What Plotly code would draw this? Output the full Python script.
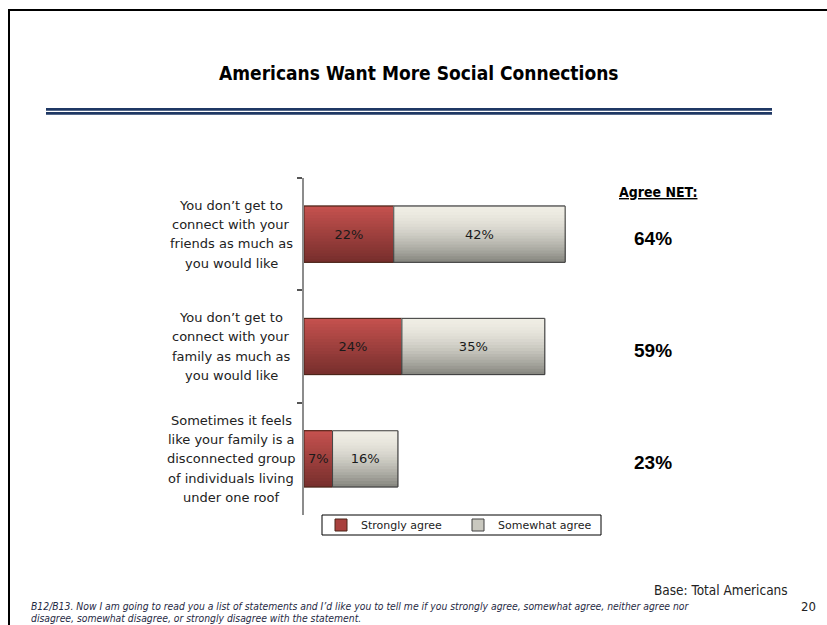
import plotly.graph_objects as go

# Survey statements (top to bottom) and agreement shares (%)
statements = [
    "You don\u2019t get to\nconnect with your\nfriends as much as\nyou would like",
    "You don\u2019t get to\nconnect with your\nfamily as much as\nyou would like",
    "Sometimes it feels\nlike your family is a\ndisconnected group\nof individuals living\nunder one roof",
]
strongly_agree = [22, 24, 7]
somewhat_agree = [42, 35, 16]
series_names = ["Strongly agree", "Somewhat agree"]

categories = [s.replace("\n", " ") for s in statements]
net_agree = [a + b for a, b in zip(strongly_agree, somewhat_agree)]

W, H = 827, 625
BAR_W = 0.5
N_BANDS = 19


def px_x(x):
    return x / W


def px_y(y):
    return 1 - y / H


def lerp(c0, c1, t):
    return "rgb(%d,%d,%d)" % tuple(round(a + (b - a) * t) for a, b in zip(c0, c1))


red_top, red_bot = (198, 82, 79), (118, 46, 44)
grey_top, grey_bot = (239, 237, 228), (132, 132, 125)

fig = go.Figure()

series = [
    dict(name=series_names[0], x=strongly_agree, base=[0] * 3,
         top=red_top, bot=red_bot, gamma=1.0, edge="#4a2418", mid="#a8403d"),
    dict(name=series_names[1], x=somewhat_agree, base=strongly_agree,
         top=grey_top, bot=grey_bot, gamma=1.7, edge="#404040", mid="#c9c8bf"),
]

for s in series:
    # legend swatch / base layer
    fig.add_trace(go.Bar(
        y=categories, x=s["x"], base=s["base"], orientation="h",
        name=s["name"], width=BAR_W, marker=dict(color=s["mid"], line=dict(color=s["edge"], width=1)),
        showlegend=True, hoverinfo="skip",
    ))
    # vertical gradient built from stacked bands (top light, bottom dark)
    for k in range(N_BANDS):
        t = (N_BANDS - k - 0.5) / N_BANDS
        col = lerp(s["top"], s["bot"], t ** s["gamma"])
        fig.add_trace(go.Bar(
            y=categories, x=s["x"], base=s["base"], orientation="h",
            width=BAR_W * (N_BANDS - k) / N_BANDS, offset=-BAR_W / 2,
            marker=dict(color=col, line=dict(width=0)),
            showlegend=False, hoverinfo="skip",
        ))
    # outline and value labels
    fig.add_trace(go.Bar(
        y=categories, x=s["x"], base=s["base"], orientation="h",
        width=BAR_W, marker=dict(color="rgba(0,0,0,0)", line=dict(color=s["edge"], width=1)),
        text=[f"{v}%" for v in s["x"]], textposition="inside", insidetextanchor="middle",
        constraintext="none", textangle=0,
        insidetextfont=dict(family="DejaVu Sans", size=13, color="#1a1a1a"),
        showlegend=False, hoverinfo="skip",
    ))

fig.update_layout(
    width=W, height=H,
    margin=dict(l=0, r=0, t=0, b=0),
    paper_bgcolor="white", plot_bgcolor="white",
    barmode="overlay",
    xaxis=dict(domain=[px_x(304), px_x(712)], range=[0, 100], visible=False, fixedrange=True),
    yaxis=dict(
        domain=[px_y(515), px_y(178)], type="category", categoryarray=categories,
        range=[2.5, -0.5], showticklabels=False, tickson="boundaries",
        ticks="outside", ticklen=5, tickwidth=1.5, tickcolor="#555555",
        showline=True, linecolor="#8c8c8c", linewidth=2, showgrid=False, zeroline=False,
    ),
    legend=dict(
        orientation="h", x=px_x(321), y=px_y(525), xanchor="left", yanchor="middle",
        bgcolor="rgba(0,0,0,0)", borderwidth=0, entrywidth=92,
        font=dict(family="DejaVu Sans", size=11, color="#222222"),
        itemclick=False, itemdoubleclick=False, tracegroupgap=0,
    ),
    showlegend=True,
)

shapes = [
    # slide frame
    dict(type="line", xref="paper", yref="paper", x0=px_x(8), x1=px_x(827), y0=px_y(10), y1=px_y(10),
         line=dict(color="black", width=2)),
    dict(type="line", xref="paper", yref="paper", x0=px_x(9), x1=px_x(9), y0=px_y(9), y1=px_y(625),
         line=dict(color="black", width=2)),
    # double rule under title
    dict(type="line", xref="paper", yref="paper", x0=px_x(46), x1=px_x(772), y0=px_y(109.3), y1=px_y(109.3),
         line=dict(color="#1f3864", width=2.8)),
    dict(type="line", xref="paper", yref="paper", x0=px_x(46), x1=px_x(772), y0=px_y(113.4), y1=px_y(113.4),
         line=dict(color="#1f3864", width=2.8)),
    # legend frame
    dict(type="rect", xref="paper", yref="paper", x0=px_x(322), x1=px_x(601), y0=px_y(515), y1=px_y(535),
         line=dict(color="black", width=1), fillcolor="white", layer="below"),
]
fig.update_layout(shapes=shapes)

ann = []
# title
ann.append(dict(text="<b>Americans Want More Social Connections</b>", x=px_x(418), y=px_y(73),
                xref="paper", yref="paper", showarrow=False, xanchor="center", yanchor="middle",
                font=dict(family="DejaVu Sans Condensed", size=19, color="black")))

# statement labels, one annotation per line for Excel-like line spacing
LINE_STEP = 19.3 / 112.3
for i, s in enumerate(statements):
    lines = s.split("\n")
    n = len(lines)
    for j, ln in enumerate(lines):
        ann.append(dict(text=ln, x=px_x(231), xref="paper", y=i + (j - (n - 1) / 2) * LINE_STEP, yref="y",
                        showarrow=False, xanchor="center", yanchor="middle",
                        font=dict(family="DejaVu Sans", size=13, color="#222222")))

# Agree NET column
ann.append(dict(text="<b><u>Agree NET:</u></b>", x=px_x(658), y=px_y(192), xref="paper", yref="paper",
                showarrow=False, xanchor="center", yanchor="middle",
                font=dict(family="DejaVu Sans Condensed", size=14, color="black")))
for i, v in enumerate(net_agree):
    ann.append(dict(text=f"<b>{v}%</b>", x=px_x(653), xref="paper", y=i, yref="y",
                    yshift=-4, showarrow=False, xanchor="center", yanchor="middle",
                    font=dict(family="Liberation Sans", size=19, color="black")))

# footer
ann.append(dict(text="Base: Total Americans", x=px_x(790), y=px_y(590), xref="paper", yref="paper",
                showarrow=False, xanchor="right", yanchor="middle",
                font=dict(family="DejaVu Sans Condensed", size=13.5, color="#222222")))
ann.append(dict(text="20", x=px_x(818), y=px_y(606), xref="paper", yref="paper",
                showarrow=False, xanchor="right", yanchor="middle",
                font=dict(family="DejaVu Sans Condensed", size=13, color="#222222")))
ann.append(dict(text="<i>B12/B13. Now I am going to read you a list of statements and I\u2019d like you to tell me if you "
                     "strongly agree, somewhat agree, neither agree nor</i>",
                x=px_x(29), y=px_y(606), xref="paper", yref="paper", showarrow=False,
                xanchor="left", yanchor="middle",
                font=dict(family="DejaVu Sans Condensed", size=10.3, color="#1f2a44")))
ann.append(dict(text="<i>disagree, somewhat disagree, or strongly disagree with the statement.</i>",
                x=px_x(29), y=px_y(618), xref="paper", yref="paper", showarrow=False,
                xanchor="left", yanchor="middle",
                font=dict(family="DejaVu Sans Condensed", size=10.3, color="#1f2a44")))

fig.update_layout(annotations=ann)

fig.write_html("out.html", config={"displayModeBar": False})
